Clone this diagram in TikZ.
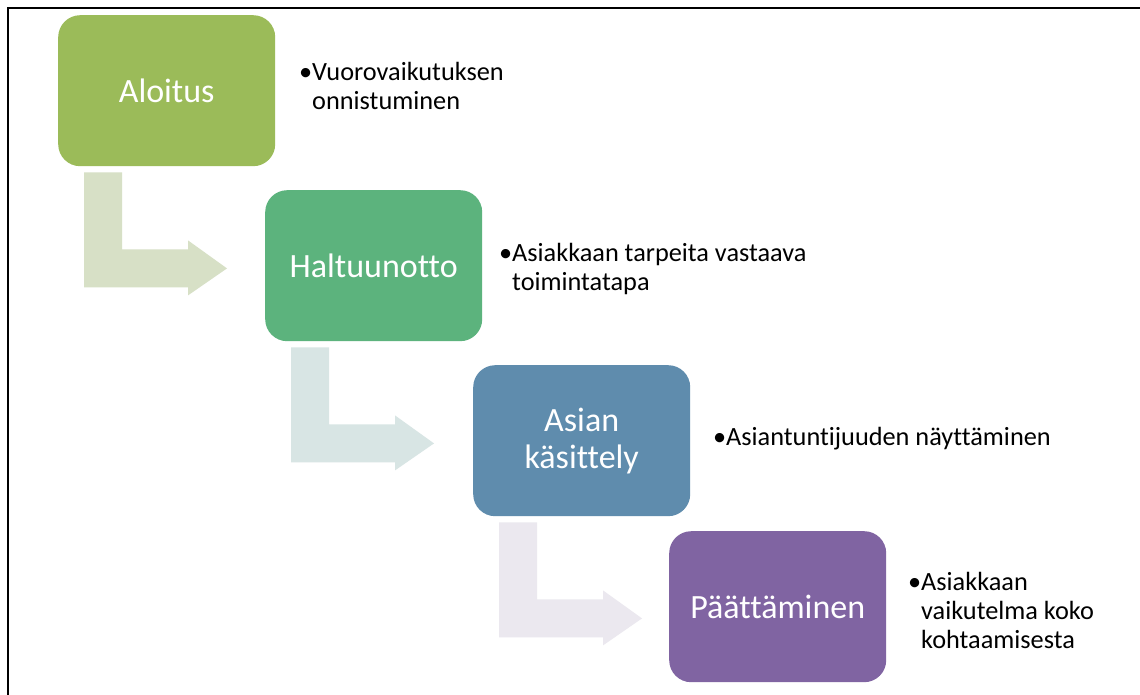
\documentclass[tikz,border=0pt]{standalone}
\usepackage{fontspec}
\setmainfont[Ligatures=NoCommon]{Carlito}
\usetikzlibrary{calc}
\definecolor{cA}{HTML}{9BBB59}
\definecolor{cB}{HTML}{5CB37D}
\definecolor{cC}{HTML}{5F8CAD}
\definecolor{cD}{HTML}{8064A2}
\definecolor{aA}{HTML}{D7E0C6}
\definecolor{aB}{HTML}{D8E5E4}
\definecolor{aC}{HTML}{EBE8EF}
\newcommand{\bentarrow}[2]{%
  \fill[#2] ($(#1.south west)+(26,6)$) -- ($(#1.south west)+(64,6)$) -- ($(#1.south west)+(64,83)$)
   -- ($(#1.south west)+(130,83)$) -- ($(#1.south west)+(130,74)$) -- ($(#1.south west)+(169,102)$)
   -- ($(#1.south west)+(130,129)$) -- ($(#1.south west)+(130,121)$) -- ($(#1.south west)+(26,121)$) -- cycle;}
\begin{document}
\begin{tikzpicture}[x=1pt,y=-1pt,
  stage/.style={draw=none, rounded corners=22pt, minimum width=217pt, minimum height=151pt,
     inner sep=0pt, anchor=north west, text=white, align=center,
     font=\fontsize{34}{37}\selectfont},
  bullet/.style={anchor=north west, inner sep=0pt, align=left, text=black,
     font=\fontsize{26.3}{29.2}\selectfont}]
\useasboundingbox (0,0) rectangle (1140,695);
\fill[white] (0,0) rectangle (1140,695);
\draw[line width=2pt] (8,695) -- (8,8) -- (1140,8);
\node[stage, fill=cA] (s1) at (58,15) {Aloitus};
\node[stage, fill=cB] (s2) at (265,190) {Haltuunotto};
\node[stage, fill=cC] (s3) at (473,365) {Asian\\käsittely};
\node[stage, fill=cD] (s4) at (669,531) {Päättäminen};
\bentarrow{s1}{aA}
\bentarrow{s2}{aB}
\bentarrow{s3}{aC}
\node[bullet] (t1) at (312,62) {\llap{•}Vuorovaikutuksen\\onnistuminen};
\node[bullet] (t2) at (512,243) {\llap{•}Asiakkaan tarpeita vastaava\\toimintatapa};
\node[bullet] (t3) at (726,427) {\llap{•}Asiantuntijuuden näyttäminen};
\node[bullet] (t4) at (921,572) {\llap{•}Asiakkaan\\vaikutelma koko\\kohtaamisesta};
\end{tikzpicture}
\end{document}
